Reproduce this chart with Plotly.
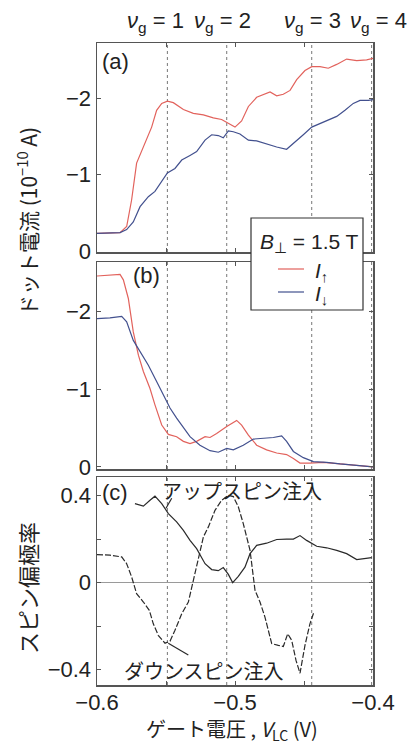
import plotly.graph_objects as go

# ---------------- data ----------------
nu_positions = [-0.549, -0.506, -0.4444, -0.401]
nu_labels = ["1", "2", "3", "4"]
nu_label_px = [155, 222, 312, 378]   # label centres (pixels) at the top

a_up_x = [-0.6000,-0.5833,-0.5785,-0.5749,-0.5713,-0.5652,-0.5604,-0.5568,-0.5531,-0.5490,-0.5447,-0.5374,-0.5302,-0.5229,-0.5157,-0.5097,-0.5048,-0.5000,-0.4952,-0.4903,-0.4843,-0.4795,-0.4746,-0.4698,-0.4650,-0.4601,-0.4553,-0.4493,-0.4444,-0.4384,-0.4324,-0.4263,-0.4191,-0.4118,-0.4046,-0.3998]
a_up_y = [-0.23,-0.24,-0.32,-0.67,-1.15,-1.41,-1.62,-1.84,-1.93,-1.96,-1.94,-1.85,-1.80,-1.78,-1.74,-1.72,-1.67,-1.62,-1.70,-1.89,-2.01,-2.05,-2.08,-2.03,-2.05,-2.10,-2.24,-2.36,-2.41,-2.41,-2.39,-2.44,-2.51,-2.49,-2.50,-2.52]

a_dn_x = [-0.6000,-0.5833,-0.5785,-0.5737,-0.5688,-0.5628,-0.5580,-0.5531,-0.5490,-0.5435,-0.5386,-0.5326,-0.5278,-0.5217,-0.5169,-0.5121,-0.5085,-0.5048,-0.5012,-0.4964,-0.4903,-0.4843,-0.4771,-0.4698,-0.4626,-0.4565,-0.4505,-0.4444,-0.4384,-0.4324,-0.4263,-0.4203,-0.4143,-0.4094,-0.4034,-0.3998]
a_dn_y = [-0.23,-0.24,-0.28,-0.38,-0.58,-0.71,-0.78,-0.91,-1.02,-1.08,-1.19,-1.25,-1.30,-1.45,-1.52,-1.51,-1.48,-1.57,-1.56,-1.53,-1.45,-1.44,-1.40,-1.36,-1.33,-1.42,-1.52,-1.62,-1.67,-1.71,-1.76,-1.84,-1.93,-1.97,-1.97,-1.98]

b_up_x = [-0.6000,-0.5833,-0.5809,-0.5773,-0.5737,-0.5700,-0.5664,-0.5616,-0.5580,-0.5531,-0.5483,-0.5423,-0.5374,-0.5326,-0.5278,-0.5217,-0.5181,-0.5133,-0.5060,-0.4988,-0.4952,-0.4903,-0.4843,-0.4771,-0.4698,-0.4626,-0.4577,-0.4529,-0.4457,-0.4360,-0.4239,-0.4118,-0.3998]
b_up_y = [-2.46,-2.48,-2.41,-2.17,-1.74,-1.44,-1.23,-1.01,-0.80,-0.54,-0.42,-0.39,-0.33,-0.30,-0.33,-0.39,-0.38,-0.43,-0.52,-0.60,-0.54,-0.41,-0.28,-0.22,-0.18,-0.16,-0.11,-0.05,-0.05,-0.06,-0.04,-0.02,0.0]

b_dn_x = [-0.6000,-0.5906,-0.5821,-0.5785,-0.5737,-0.5688,-0.5628,-0.5568,-0.5519,-0.5471,-0.5423,-0.5374,-0.5326,-0.5254,-0.5181,-0.5121,-0.5060,-0.5012,-0.4940,-0.4867,-0.4795,-0.4722,-0.4662,-0.4626,-0.4577,-0.4505,-0.4432,-0.4336,-0.4239,-0.4118,-0.3998]
b_dn_y = [-1.91,-1.92,-1.94,-1.87,-1.63,-1.48,-1.31,-1.10,-0.93,-0.76,-0.63,-0.50,-0.39,-0.28,-0.21,-0.19,-0.24,-0.22,-0.28,-0.36,-0.37,-0.38,-0.40,-0.33,-0.20,-0.12,-0.07,-0.06,-0.04,-0.02,0.0]

c_up_x = [-0.5725,-0.5664,-0.5616,-0.5580,-0.5531,-0.5483,-0.5423,-0.5374,-0.5326,-0.5278,-0.5217,-0.5169,-0.5121,-0.5085,-0.5048,-0.5017,-0.4976,-0.4928,-0.4891,-0.4843,-0.4771,-0.4698,-0.4626,-0.4577,-0.4529,-0.4481,-0.4408,-0.4336,-0.4263,-0.4191,-0.4118,-0.4070,-0.4010]
c_up_y = [0.363,0.351,0.378,0.397,0.363,0.317,0.279,0.240,0.194,0.156,0.087,0.060,0.055,0.069,0.038,0.0,0.029,0.071,0.133,0.171,0.181,0.198,0.200,0.200,0.216,0.194,0.167,0.160,0.148,0.133,0.106,0.110,0.115]

c_dn_x = [-0.6000,-0.5906,-0.5821,-0.5785,-0.5749,-0.5713,-0.5664,-0.5621,-0.5592,-0.5556,-0.5507,-0.5471,-0.5435,-0.5386,-0.5338,-0.5302,-0.5266,-0.5229,-0.5193,-0.5145,-0.5097,-0.5048,-0.5012,-0.4976,-0.4940,-0.4891,-0.4855,-0.4819,-0.4783,-0.4734,-0.4686,-0.4650,-0.4618,-0.4589,-0.4558,-0.4529,-0.4493,-0.4457,-0.4428]
c_dn_y = [0.129,0.126,0.118,0.087,0.026,-0.051,-0.089,-0.127,-0.189,-0.242,-0.278,-0.269,-0.219,-0.143,-0.089,0.011,0.102,0.210,0.256,0.332,0.378,0.401,0.395,0.348,0.271,0.148,-0.035,-0.089,-0.158,-0.280,-0.288,-0.293,-0.235,-0.265,-0.357,-0.416,-0.288,-0.189,-0.135]

x_tickvals = [-0.6, -0.5, -0.4]
x_ticktext = ["\u22120.6", "\u22120.5", "\u22120.4"]
x_minor_ticks = [-0.55, -0.45]
i_tickvals = [0, -1, -2]
i_ticktext = ["0", "\u22121", "\u22122"]
p_tickvals = [-0.4, 0, 0.4]
p_ticktext = ["\u22120.4", "0", "0.4"]
p_minor_ticks = [-0.2, 0.2]

# ---------------- style ----------------
RED = "#e2625c"
BLUE = "#42508e"
DARK = "#2a2a2a"
FRAME = "#555555"
TXT = "#222222"
LATIN = "Liberation Sans, Arial, sans-serif"
CJK = "Noto Sans CJK JP, sans-serif"

W, H = 414, 746
L, R, T, B = 97, 41, 43, 61
PW, PH = W - L - R, H - T - B


def px_x(px):
    return (px - L) / PW


def px_y(py):
    return (H - B - py) / PH


fig = go.Figure()
fig.add_trace(go.Scatter(x=a_up_x, y=a_up_y, mode="lines", line=dict(color=RED, width=1.2),
                         xaxis="x", yaxis="y", showlegend=False, name="I↑"))
fig.add_trace(go.Scatter(x=a_dn_x, y=a_dn_y, mode="lines", line=dict(color=BLUE, width=1.2),
                         xaxis="x", yaxis="y", showlegend=False, name="I↓"))
fig.add_trace(go.Scatter(x=b_up_x, y=b_up_y, mode="lines", line=dict(color=RED, width=1.2),
                         xaxis="x2", yaxis="y2", showlegend=False))
fig.add_trace(go.Scatter(x=b_dn_x, y=b_dn_y, mode="lines", line=dict(color=BLUE, width=1.2),
                         xaxis="x2", yaxis="y2", showlegend=False))
fig.add_trace(go.Scatter(x=c_up_x, y=c_up_y, mode="lines", line=dict(color=DARK, width=1.2),
                         xaxis="x3", yaxis="y3", showlegend=False))
fig.add_trace(go.Scatter(x=c_dn_x, y=c_dn_y, mode="lines", line=dict(color=DARK, width=1.2, dash="6px,2px"),
                         xaxis="x3", yaxis="y3", showlegend=False))

common_x = dict(range=[-0.6, -0.4], tickvals=x_tickvals, ticktext=x_ticktext, automargin=False,
                ticks="inside", ticklen=4, tickcolor=FRAME, showline=True, linecolor=FRAME,
                linewidth=1.5, mirror="ticks", showgrid=False, zeroline=False,
                minor=dict(tickvals=x_minor_ticks, ticks="inside", ticklen=4, tickcolor=FRAME, showgrid=False),
                tickfont=dict(family=LATIN, size=22, color=TXT))
common_y = dict(ticks="inside", ticklen=4, tickcolor=FRAME, showline=True, linecolor=FRAME,
                linewidth=1.5, mirror="ticks", showgrid=False, automargin=False,
                tickfont=dict(family=LATIN, size=22, color=TXT))

fig.update_layout(
    template="none",
    width=W, height=H,
    margin=dict(l=L, r=R, t=T, b=B, autoexpand=False),
    paper_bgcolor="white", plot_bgcolor="white",
    showlegend=False,
    xaxis=dict(common_x, anchor="y", showticklabels=False),
    xaxis2=dict(common_x, anchor="y2", showticklabels=False, matches="x"),
    xaxis3=dict(common_x, anchor="y3", showticklabels=True, matches="x", ticklabelstandoff=-3),
    yaxis=dict(common_y, domain=[px_y(252), 1.0], range=[0.013, -2.72],
               tickvals=i_tickvals, ticktext=i_ticktext, zeroline=False),
    yaxis2=dict(common_y, domain=[px_y(469), px_y(262)], range=[0.026, -2.64],
                tickvals=i_tickvals, ticktext=i_ticktext, zeroline=False),
    yaxis3=dict(common_y, domain=[0.0, px_y(477)], range=[-0.47, 0.485],
                tickvals=p_tickvals, ticktext=p_ticktext,
                minor=dict(tickvals=p_minor_ticks, ticks="inside", ticklen=4, tickcolor=FRAME, showgrid=False),
                zeroline=True, zerolinecolor="#9a9a9a", zerolinewidth=1),
)

shapes = []
for xr, yr in [("x", "y domain"), ("x2", "y2 domain"), ("x3", "y3 domain")]:
    for nv in nu_positions:
        shapes.append(dict(type="line", xref=xr, yref=yr, x0=nv, x1=nv, y0=0, y1=1,
                           line=dict(color="#777777", width=1, dash="dot"), layer="below"))

# legend box
shapes.append(dict(type="rect", xref="paper", yref="paper", x0=px_x(251), x1=px_x(363),
                   y0=px_y(310), y1=px_y(218),
                   line=dict(color="#333333", width=1.2), fillcolor="white", layer="above"))
shapes.append(dict(type="line", xref="paper", yref="paper", x0=px_x(278), x1=px_x(304),
                   y0=px_y(269), y1=px_y(269), line=dict(color=RED, width=1.2), layer="above"))
shapes.append(dict(type="line", xref="paper", yref="paper", x0=px_x(278), x1=px_x(304),
                   y0=px_y(292), y1=px_y(292), line=dict(color=BLUE, width=1.2), layer="above"))
# pointer lines in (c)
shapes.append(dict(type="line", xref="paper", yref="paper", x0=px_x(171.7), y0=px_y(498.3),
                   x1=px_x(166), y1=px_y(508.3), line=dict(color=DARK, width=1.2)))
shapes.append(dict(type="line", xref="paper", yref="paper", x0=px_x(168.3), y0=px_y(643.3),
                   x1=px_x(188.3), y1=px_y(655), line=dict(color=DARK, width=1.2)))
fig.update_layout(shapes=shapes)


def txt(px, py, text, size, family=LATIN, xanchor="center", angle=0):
    return dict(x=px_x(px), y=px_y(py), xref="paper", yref="paper", text=text, showarrow=False,
                xanchor=xanchor, yanchor="middle", textangle=angle,
                font=dict(family=family, size=size, color=TXT))


ann = []
for pxc, lab in zip(nu_label_px, nu_labels):
    ann.append(txt(pxc, 22, "<i>ν</i><sub>g</sub> = " + lab, 22))
ann += [
    txt(100, 62, "(a)", 22, xanchor="left"),
    txt(131, 275, "(b)", 22, xanchor="left"),
    txt(100, 492, "(c)", 22, xanchor="left"),
    txt(309, 243, "<i>B</i><sub>⊥</sub> = 1.5 T", 21),
    txt(313, 272, "<i>I</i><sub>↑</sub>", 21, xanchor="left"),
    txt(313, 295, "<i>I</i><sub>↓</sub>", 21, xanchor="left"),
    txt(242, 490, "アップスピン注入", 20, family=CJK),
    txt(204, 670, "ダウンスピン注入", 20, family=CJK),
    txt(27, 222, "ドット電流 (10<sup>−10</sup> A)", 21, family=CJK, angle=-90),
    txt(27, 588, "スピン偏極率", 22, family=CJK, angle=-90),
    txt(232, 729, "ゲート電圧 , <i>V</i><sub>LC</sub> (V)", 20, family=CJK),
]
fig.update_layout(annotations=ann)

fig.write_html("out.html", config={"displayModeBar": False, "staticPlot": True},
               post_script="document.body.style.margin='0px';document.body.style.overflow='hidden';")
